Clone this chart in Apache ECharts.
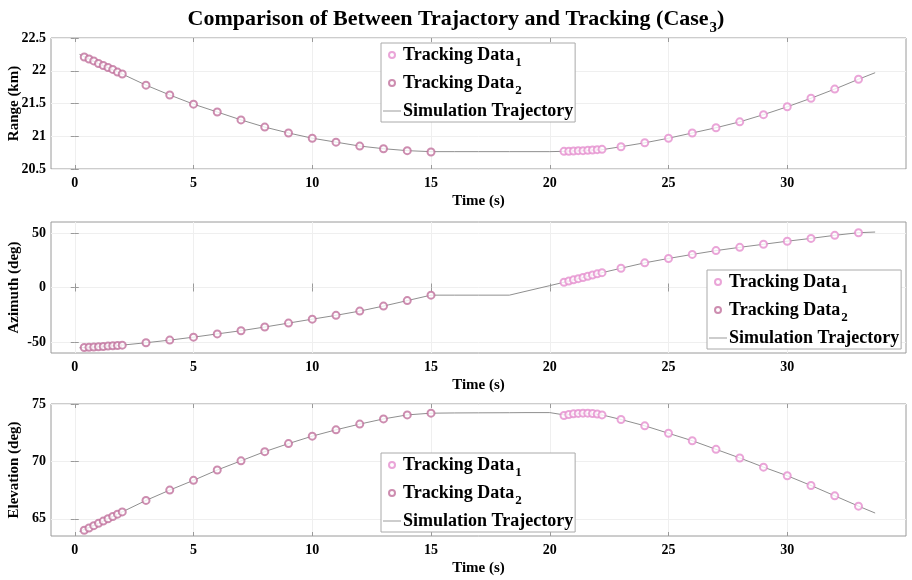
<!DOCTYPE html>
<html>
<head>
<meta charset="utf-8">
<script src="https://cdn.jsdelivr.net/npm/echarts@6/dist/echarts.min.js"></script>
<style>
  html, body { margin: 0; padding: 0; background: #fff; }
  #chart { width: 912px; height: 580px; }
</style>
</head>
<body>
<div id="chart"></div>
<script>
// tracking samples, block A (early pass) and block B (late pass)
var timeA = [0.4, 0.6, 0.8, 1.0, 1.2, 1.4, 1.6, 1.8, 2.0, 3, 4, 5, 6, 7, 8, 9, 10, 11, 12, 13, 14, 15];
var timeB = [20.6, 20.8, 21.0, 21.2, 21.4, 21.6, 21.8, 22.0, 22.2, 23, 24, 25, 26, 27, 28, 29, 30, 31, 32, 33];

var rangeA = [22.21, 22.18, 22.15, 22.11, 22.08, 22.05, 22.02, 21.98, 21.95, 21.78, 21.63, 21.49, 21.37, 21.25, 21.14, 21.05, 20.97, 20.91, 20.85, 20.81, 20.78, 20.76];
var rangeB = [20.77, 20.77, 20.775, 20.78, 20.78, 20.785, 20.79, 20.795, 20.80, 20.84, 20.90, 20.97, 21.05, 21.13, 21.22, 21.33, 21.45, 21.58, 21.72, 21.87];

var azA = [-55, -54.8, -54.6, -54.3, -54, -53.7, -53.4, -53.1, -52.8, -50.6, -48.2, -45.5, -42.5, -39.6, -36.2, -32.6, -29, -25.5, -21.6, -17, -12, -7];
var azB = [4.8, 5.9, 7, 8.1, 9.2, 10.3, 11.4, 12.5, 13.6, 17.6, 22.6, 26.6, 30.3, 33.8, 36.8, 39.6, 42.4, 45, 47.8, 50.2];

var elA = [64.0, 64.2, 64.4, 64.6, 64.8, 65.0, 65.2, 65.4, 65.6, 66.6, 67.5, 68.35, 69.25, 70.05, 70.85, 71.55, 72.2, 72.75, 73.25, 73.7, 74.05, 74.2];
var elB = [74.0, 74.08, 74.14, 74.18, 74.2, 74.2, 74.17, 74.12, 74.05, 73.65, 73.1, 72.45, 71.8, 71.05, 70.3, 69.5, 68.75, 67.9, 67.0, 66.1];

// simulated trajectory
var simTime = [0.2, 1, 2, 3, 4, 5, 6, 7, 8, 9, 10, 11, 12, 13, 14, 15, 16, 17, 18.3, 19, 20, 20.6, 21.4, 22.2, 23, 24, 25, 26, 27, 28, 29, 30, 31, 32, 33, 33.7];
var simRange = [22.25, 22.11, 21.95, 21.78, 21.63, 21.49, 21.37, 21.25, 21.14, 21.05, 20.97, 20.91, 20.85, 20.81, 20.78, 20.765, 20.765, 20.765, 20.765, 20.765, 20.765, 20.77, 20.78, 20.795, 20.84, 20.90, 20.97, 21.05, 21.13, 21.22, 21.33, 21.45, 21.58, 21.72, 21.87, 21.97];
var simAz = [-55.2, -54.3, -52.8, -50.6, -48.2, -45.5, -42.5, -39.6, -36.2, -32.6, -29, -25.5, -21.6, -17, -12, -7, -7, -7, -7, -3.4, 1.7, 4.8, 9.2, 13.6, 17.6, 22.6, 26.6, 30.3, 33.8, 36.8, 39.6, 42.4, 45, 47.8, 50.2, 50.8];
var simEl = [63.9, 64.6, 65.6, 66.6, 67.5, 68.35, 69.25, 70.05, 70.85, 71.55, 72.2, 72.75, 73.25, 73.7, 74.05, 74.2, 74.22, 74.23, 74.24, 74.25, 74.25, 74.05, 74.2, 74.05, 73.65, 73.1, 72.45, 71.8, 71.05, 70.3, 69.5, 68.75, 67.9, 67.0, 66.1, 65.5];

// tick labels
var timeTicks = [0, 5, 10, 15, 20, 25, 30];
var rangeTicks = [20.5, 21, 21.5, 22, 22.5];
var azTicks = [-50, 0, 50];
var elTicks = [65, 70, 75];

var serif = '"Liberation Serif", "Times New Roman", serif';
var axisGray = '#9a9a9a';
var gridGray = '#efefef';
var col1 = '#e58fce';
var col2 = '#c0709c';
var lineGray = '#8f8f8f';

var panels = [
    {top: 38, height: 131, min: 20.5, max: 22.5, ticks: rangeTicks, name: 'Range (km)', a: rangeA, b: rangeB, sim: simRange, legend: {left: 381, top: 43}},
    {top: 222, height: 131, min: -60, max: 60, ticks: azTicks, name: 'Azimuth (deg)', a: azA, b: azB, sim: simAz, legend: {left: 707, top: 270}},
    {top: 404, height: 132, min: 63.5, max: 75, ticks: elTicks, name: 'Elevation (deg)', a: elA, b: elB, sim: simEl, legend: {left: 381, top: 453}}
];

function pairs(xs, ys) {
    return xs.map(function (x, k) { return [x, ys[k]]; });
}

var labelStyle = {fontFamily: serif, fontWeight: 'bold', fontSize: 14, color: '#000'};
var nameStyle = {fontFamily: serif, fontWeight: 'bold', fontSize: 15, color: '#000'};

var grids = [], xAxes = [], yAxes = [], series = [], legends = [];

panels.forEach(function (p, i) {
    grids.push({left: 51, right: 6, top: p.top, height: p.height, show: true,
        containLabel: false, outerBoundsMode: 'none',
        borderColor: axisGray, borderWidth: 1, backgroundColor: '#fff'});

    xAxes.push({
        gridIndex: i, type: 'value', min: -1, max: 35,
        axisLine: {show: false},
        axisTick: {inside: true, length: 4, customValues: timeTicks, lineStyle: {color: axisGray}},
        axisLabel: Object.assign({customValues: timeTicks, margin: 7}, labelStyle),
        splitLine: {show: true, lineStyle: {color: gridGray}},
        name: 'Time (s)', nameLocation: 'middle', nameGap: 25, nameMoveOverlap: false,
        nameTextStyle: nameStyle
    });
    xAxes.push({
        gridIndex: i, type: 'value', min: -1, max: 35, position: 'top',
        axisLine: {show: false},
        axisTick: {inside: true, length: 4, customValues: timeTicks, lineStyle: {color: axisGray}},
        axisLabel: {show: false}, splitLine: {show: false}
    });

    yAxes.push({
        gridIndex: i, type: 'value', min: p.min, max: p.max,
        axisLine: {show: false},
        axisTick: {show: true, inside: true, length: 4, customValues: p.ticks, lineStyle: {color: axisGray}},
        axisLabel: Object.assign({customValues: p.ticks, margin: 5}, labelStyle),
        splitLine: {show: true, lineStyle: {color: gridGray}},
        name: p.name, nameLocation: 'middle', nameGap: 29, nameMoveOverlap: false,
        nameTextStyle: nameStyle
    });
    yAxes.push({
        gridIndex: i, type: 'value', min: p.min, max: p.max, position: 'right',
        axisLine: {show: false},
        axisTick: {show: true, inside: true, length: 4, customValues: p.ticks, lineStyle: {color: axisGray}},
        axisLabel: {show: false}, splitLine: {show: false}
    });

    series.push({
        name: 'Simulation Trajectory', type: 'line', xAxisIndex: 2 * i, yAxisIndex: 2 * i,
        data: pairs(simTime, p.sim), symbol: 'none', z: 1,
        lineStyle: {color: lineGray, width: 1}, itemStyle: {color: lineGray}
    });
    series.push({
        name: 'Tracking Data1', type: 'scatter', xAxisIndex: 2 * i, yAxisIndex: 2 * i,
        data: pairs(timeB, p.b), symbol: 'emptyCircle', symbolSize: 7, z: 3,
        itemStyle: {color: col1, borderColor: col1, borderWidth: 0.9}
    });
    series.push({
        name: 'Tracking Data2', type: 'scatter', xAxisIndex: 2 * i, yAxisIndex: 2 * i,
        data: pairs(timeA, p.a), symbol: 'emptyCircle', symbolSize: 7, z: 3,
        itemStyle: {color: col2, borderColor: col2, borderWidth: 0.9}
    });

    legends.push({
        left: p.legend.left, top: p.legend.top, orient: 'vertical',
        data: [
            {name: 'Tracking Data1'},
            {name: 'Tracking Data2'},
            {name: 'Simulation Trajectory', icon: 'path://M0,0 L20,0 L20,1 L0,1 Z'}
        ],
        backgroundColor: '#fff', borderColor: '#aaaaaa', borderWidth: 1, borderRadius: 0,
        padding: [3, 2, 2, 2], itemGap: 5, itemWidth: 18, itemHeight: 6,
        selectedMode: false,
        formatter: function (name) { return name.replace(/(\d)$/, '{sub|$1}'); },
        textStyle: {
            fontFamily: serif, fontWeight: 'bold', fontSize: 18, color: '#000', padding: [0, 0, 0, -3],
            rich: {sub: {fontFamily: serif, fontWeight: 'bold', fontSize: 13, color: '#000', padding: [15, 0, 0, 1]}}
        }
    });
});

var chart = echarts.init(document.getElementById('chart'));
chart.setOption({
    animation: false,
    backgroundColor: '#fff',
    title: {
        text: 'Comparison of Between Trajactory and Tracking (Case{sub|3})',
        left: 'center', top: -2,
        textStyle: {
            fontFamily: serif, fontWeight: 'bold', fontSize: 22, color: '#000',
            rich: {sub: {fontFamily: serif, fontWeight: 'bold', fontSize: 15, color: '#000', padding: [18, 0, 0, 1]}}
        }
    },
    grid: grids,
    xAxis: xAxes,
    yAxis: yAxes,
    legend: legends,
    series: series
});
</script>
</body>
</html>
